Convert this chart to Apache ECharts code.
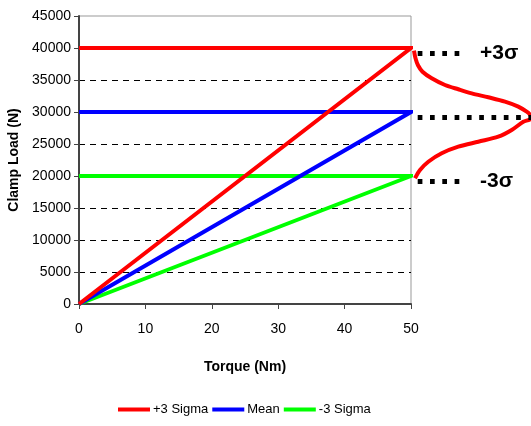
<!DOCTYPE html>
<html>
<head>
<meta charset="utf-8">
<script src="https://cdn.jsdelivr.net/npm/echarts@6/dist/echarts.min.js"></script>
<style>html,body{margin:0;padding:0;background:#fff}#c{width:531px;height:426px}</style>
</head>
<body>
<div id="c"></div>
<script>
// ---- data ----
const torqueRange = [0, 50];
const seriesNames = ['+3 Sigma', 'Mean', '-3 Sigma'];
const clampLoads = [40000, 30000, 20000];
const seriesColors = ['#ff0000', '#0000ff', '#00ff00'];
// bell curve: horizontal offset (units right of plot edge) and load
const bellOffset = [3, 4.5, 7, 11.5, 20.7, 34, 47.3, 60.7, 77.3, 94, 107.3, 115.7, 119, 120, 118.5, 112.3, 100.7, 87.3, 67.3, 47.3, 30.7, 17.3, 9, 4];
const bellLoad = [39600, 38400, 37300, 36300, 35270, 34220, 33550, 32920, 32300, 31610, 30830, 30050, 29600, 29170, 28800, 28480, 27190, 26140, 25360, 24580, 23550, 22230, 20940, 19640];
// dotted sigma markers (as drawn, slightly below the nominal levels)
const sigmaLevels = [39200, 29200, 19250];
const sigmaLabels = ['+3σ', '', '-3σ'];
const sigmaLineEnds = [49, 120, 49];

const chart = echarts.init(document.getElementById('c'));
const font = 'Liberation Sans, Arial, sans-serif';

const mainSeries = seriesNames.map((n, i) => ({
  name: n, type: 'line', xAxisIndex: 0, yAxisIndex: 0,
  data: [[torqueRange[0], clampLoads[i]], [torqueRange[1], clampLoads[i]], [torqueRange[0], 0]],
  symbol: 'none', lineStyle: { color: seriesColors[i], width: 4, join: 'miter' },
  itemStyle: { color: seriesColors[i] }, z: 5 - i
}));

const option = {
  animation: false,
  grid: [
    { left: 79, right: 120, top: 16, bottom: 122, show: true, borderColor: '#999', borderWidth: 1, outerBoundsMode: 'none', containLabel: false },
    { left: 411, right: 0, top: 16, bottom: 122, outerBoundsMode: 'none', containLabel: false }
  ],
  xAxis: [
    { type: 'value', gridIndex: 0, min: 0, max: 50, interval: 10,
      axisLine: { show: true, lineStyle: { color: '#444', width: 2 } },
      axisTick: { show: true, inside: false, length: 5, lineStyle: { color: '#444', width: 1 } },
      axisLabel: { color: '#000', fontFamily: font, fontSize: 14, margin: 18 },
      splitLine: { show: false },
      name: 'Torque (Nm)', nameLocation: 'middle', nameGap: 56,
      nameTextStyle: { fontFamily: font, fontWeight: 'bold', fontSize: 14, color: '#000' } },
    { type: 'value', gridIndex: 1, min: 0, max: 120, show: false }
  ],
  yAxis: [
    { type: 'value', gridIndex: 0, min: 0, max: 45000, interval: 5000,
      axisLine: { show: true, lineStyle: { color: '#444', width: 2 } },
      axisTick: { show: true, inside: false, length: 5, lineStyle: { color: '#444', width: 1 } },
      axisLabel: { color: '#000', fontFamily: font, fontSize: 14, margin: 8, formatter: v => String(v) },
      splitLine: { show: true, showMinLine: false, showMaxLine: false, lineStyle: { color: '#000', width: 1, type: [6, 5] } },
      name: 'Clamp Load (N)', nameLocation: 'middle', nameGap: 48,
      nameTextStyle: { fontFamily: font, fontWeight: 'bold', fontSize: 14, color: '#000' } },
    { type: 'value', gridIndex: 1, min: 0, max: 45000, show: false }
  ],
  legend: {
    bottom: 5, left: 113, itemGap: 4, itemWidth: 32, itemHeight: 4, icon: 'rect',
    data: seriesNames,
    textStyle: { fontFamily: 'Liberation Sans Narrow, ' + font, fontSize: 13, color: '#000', padding: [0, 0, 0, -2] }
  },
  series: mainSeries.concat([
    { name: 'bell', type: 'line', xAxisIndex: 1, yAxisIndex: 1, clip: false,
      data: bellOffset.map((x, i) => [x, bellLoad[i]]),
      smooth: 0.3, symbol: 'none', lineStyle: { color: '#ff0000', width: 4 }, z: 3 },
    { name: 'sigma', type: 'line', xAxisIndex: 1, yAxisIndex: 1, data: [], clip: false,
      markLine: {
        silent: true, symbol: 'none', animation: false,
        lineStyle: { color: '#000', width: 5, type: [4.7, 7.6], cap: 'butt' },
        data: sigmaLevels.map((v, i) => [
          { coord: [6.7, v], label: { show: !!sigmaLabels[i], formatter: sigmaLabels[i], position: 'end', distance: 20,
              color: '#000', fontFamily: font, fontWeight: 'bold', fontSize: 21 } },
          { coord: [sigmaLineEnds[i], v] }
        ])
      } }
  ])
};
chart.setOption(option);
</script>
</body>
</html>
